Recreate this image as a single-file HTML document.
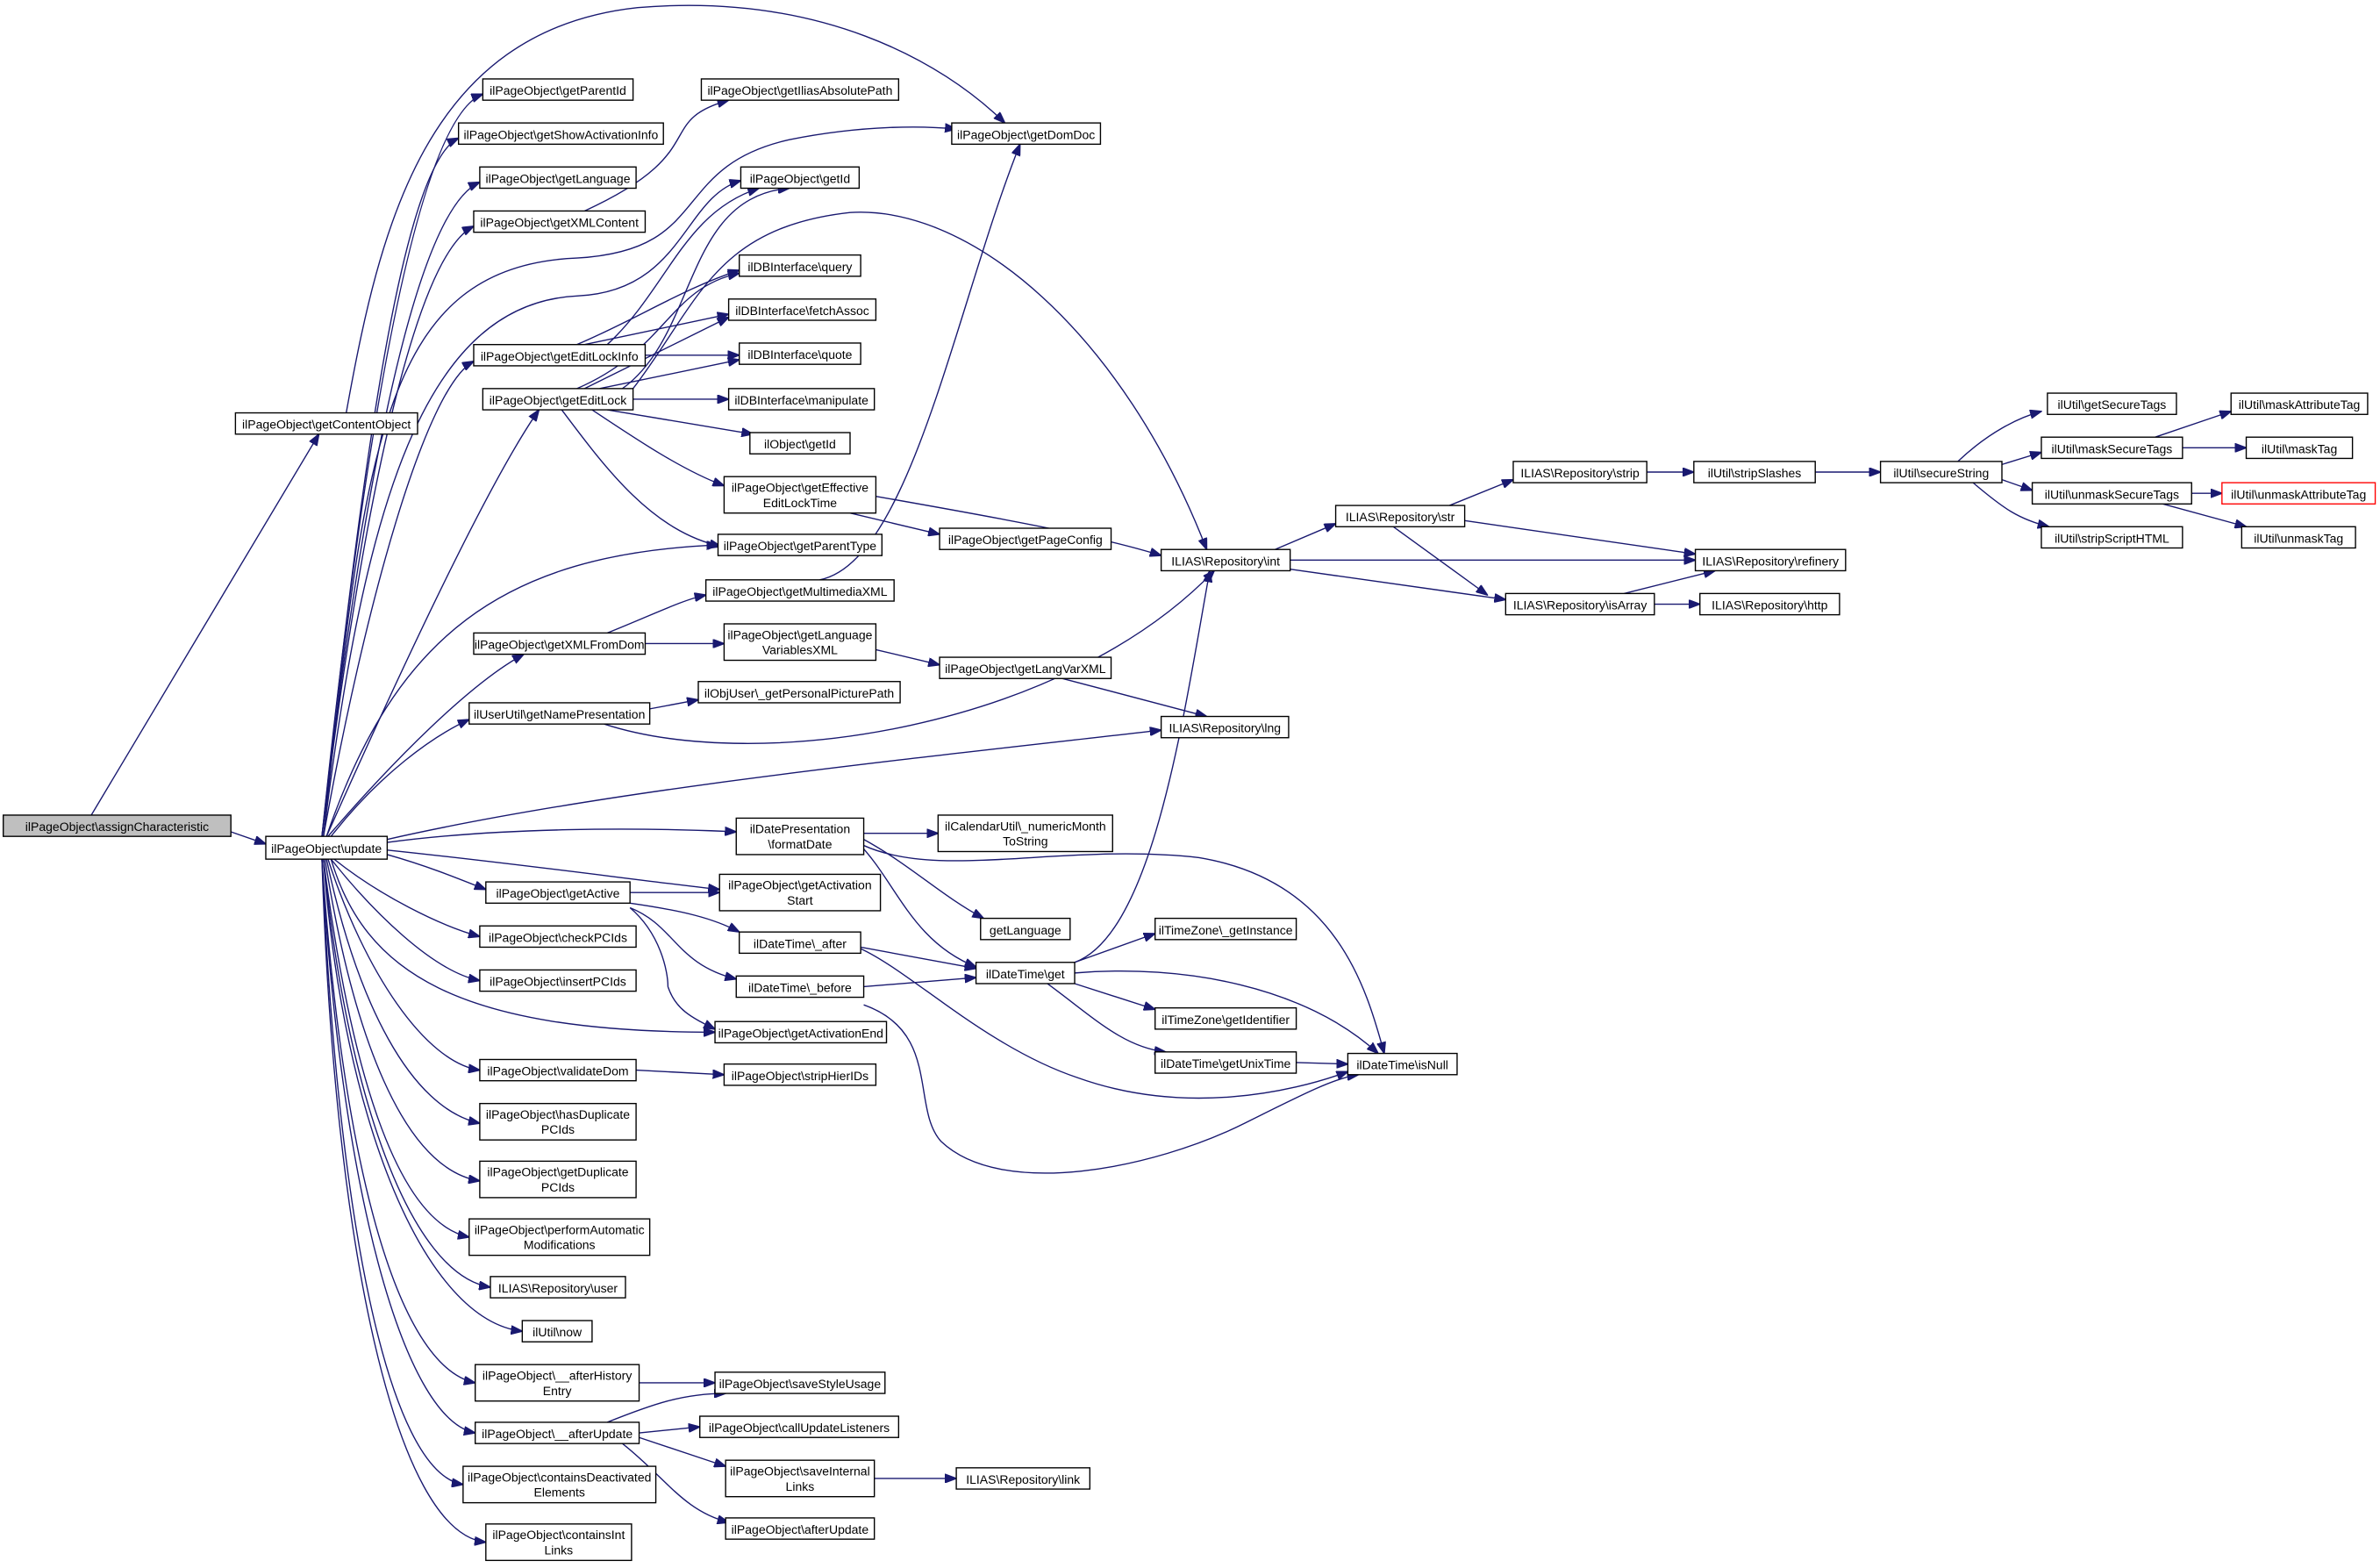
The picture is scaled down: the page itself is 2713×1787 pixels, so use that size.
<!DOCTYPE html>
<html><head><meta charset="utf-8"><style>
html,body{margin:0;padding:0;background:#fff}
svg{display:block}
text{font-family:"Liberation Sans",sans-serif;font-size:8.1px;fill:#000;text-anchor:middle}
rect{fill:#fff;stroke:#000;stroke-width:0.8}
path{fill:none;stroke:#191970;stroke-width:0.8}
</style></head><body>
<svg width="2713" height="1787" viewBox="0 0 1568 1033" xmlns="http://www.w3.org/2000/svg">
<defs><marker id="a" markerWidth="8" markerHeight="6" refX="7.5" refY="3" orient="auto" markerUnits="userSpaceOnUse"><path d="M0,0 L8,3 L0,6 z" style="fill:#191970;stroke:#191970;stroke-width:0.5"/></marker></defs>
<g marker-end="url(#a)">
<path d="M60,537 L210,286"/>
<path d="M152,548 L175,556"/>
<path d="M228,272 C250,150 280,20 420,5 C540,-5 620,40 662,81"/>
<path d="M212,551 C235,330 270,80 318,62"/>
<path d="M212,551 C235,340 262,110 302,91"/>
<path d="M212,551 C235,350 270,140 316,120"/>
<path d="M212,551 C235,360 270,170 312,149"/>
<path d="M213,551 C240,400 280,255 312,238"/>
<path d="M215,551 C260,450 320,320 355,270"/>
<path d="M216,551 C260,500 310,450 345,431"/>
<path d="M218,551 C250,510 285,485 309,474"/>
<path d="M215,551 C260,420 330,365 473,359"/>
<path d="M213,551 C240,300 250,175 380,170 C470,165 440,110 520,92 C570,82 610,83 630,85"/>
<path d="M213,551 C240,330 280,200 380,195 C450,192 450,130 488,119"/>
<path d="M255,553 C400,520 600,500 765,481"/>
<path d="M255,555 C330,545 420,545 485,548"/>
<path d="M255,563 C280,570 300,578 320,586"/>
<path d="M255,560 C350,570 420,580 474,586"/>
<path d="M218,566 C240,640 300,680 471,680"/>
<path d="M220,566 C250,590 290,610 316,617"/>
<path d="M218,566 C245,600 285,640 316,646"/>
<path d="M216,566 C240,640 280,700 316,705"/>
<path d="M215,566 C235,660 270,730 316,740"/>
<path d="M214,566 C232,680 265,770 316,778"/>
<path d="M213,566 C230,700 260,805 309,815"/>
<path d="M213,566 C228,720 270,840 323,848"/>
<path d="M213,566 C226,740 280,870 344,877"/>
<path d="M212,566 C225,760 260,900 313,911"/>
<path d="M212,566 C224,780 265,935 313,944"/>
<path d="M212,566 C222,800 255,970 305,978"/>
<path d="M212,566 C220,820 260,1010 320,1016"/>
<path d="M385,139 C470,100 430,80 480,66"/>
<path d="M380,227 C420,210 450,190 487,178"/>
<path d="M385,227 L480,207"/>
<path d="M425,234 L487,234"/>
<path d="M400,227 C440,190 450,140 500,124"/>
<path d="M380,256 C440,230 440,190 487,180"/>
<path d="M385,256 L480,209"/>
<path d="M395,256 L487,237"/>
<path d="M417,263 L480,263"/>
<path d="M400,270 L496,286"/>
<path d="M390,270 C420,290 450,310 477,320"/>
<path d="M370,270 C400,310 430,350 475,360"/>
<path d="M410,256 C460,220 450,130 520,124"/>
<path d="M417,256 C460,200 470,150 560,140 C640,135 740,220 795,362"/>
<path d="M577,327 C680,345 730,355 765,366"/>
<path d="M560,338 L619,352"/>
<path d="M540,382 C600,370 630,200 672,95"/>
<path d="M400,417 C430,405 450,395 465,392"/>
<path d="M425,424 L477,424"/>
<path d="M577,428 L619,438"/>
<path d="M700,447 L795,472"/>
<path d="M428,467 L460,461"/>
<path d="M398,477 C500,510 700,480 800,376"/>
<path d="M569,549 L618,549"/>
<path d="M569,553 C600,570 620,590 648,605"/>
<path d="M565,555 C590,580 600,620 643,637"/>
<path d="M569,557 C620,580 700,555 790,565 C880,580 900,650 912,694"/>
<path d="M415,588 L474,588"/>
<path d="M415,595 C450,600 470,605 487,614"/>
<path d="M415,598 C445,610 445,635 485,645"/>
<path d="M415,598 C435,615 440,640 440,650 C445,665 455,670 471,678"/>
<path d="M567,624 L643,638"/>
<path d="M569,650 L643,644"/>
<path d="M567,625 C600,640 650,690 710,710 C780,735 850,720 888,706"/>
<path d="M569,662 C620,680 600,730 620,752 C660,790 760,770 820,740 C860,720 880,710 895,708"/>
<path d="M708,634 L761,615"/>
<path d="M708,648 L761,665"/>
<path d="M690,648 C720,670 740,690 768,693"/>
<path d="M708,641 C780,635 860,650 908,694"/>
<path d="M708,634 C760,615 780,470 797,376"/>
<path d="M854,700 L888,701"/>
<path d="M840,362 L880,345"/>
<path d="M850,369 L1117,369"/>
<path d="M850,375 L992,395"/>
<path d="M955,333 L997,316"/>
<path d="M965,343 L1117,365"/>
<path d="M918,347 L980,392"/>
<path d="M1085,311 L1116,311"/>
<path d="M1196,311 L1239,311"/>
<path d="M1290,304 C1310,285 1330,275 1345,271"/>
<path d="M1319,306 L1345,298"/>
<path d="M1319,316 L1339,323"/>
<path d="M1300,318 C1320,335 1330,342 1350,347"/>
<path d="M1420,288 L1470,271"/>
<path d="M1438,295 L1480,295"/>
<path d="M1444,325 L1464,325"/>
<path d="M1425,332 L1480,347"/>
<path d="M1070,391 L1130,376"/>
<path d="M1090,398 L1120,398"/>
<path d="M419,705 L477,708"/>
<path d="M421,911 L471,911"/>
<path d="M400,937 C430,925 450,918 478,918"/>
<path d="M421,944 L461,940"/>
<path d="M421,947 L478,966"/>
<path d="M410,951 C440,975 450,995 480,1003"/>
<path d="M576,974 L630,974"/>
</g>
<rect x="2" y="537" width="150" height="14" style="fill:#bfbfbf"/><text x="77" y="547.5">ilPageObject\assignCharacteristic</text>
<rect x="155" y="272" width="120" height="14"/><text x="215" y="282.5">ilPageObject\getContentObject</text>
<rect x="175" y="551" width="80" height="15"/><text x="215" y="562">ilPageObject\update</text>
<rect x="318" y="52" width="99" height="14"/><text x="367.5" y="62.5">ilPageObject\getParentId</text>
<rect x="302" y="81" width="135" height="14"/><text x="369.5" y="91.5">ilPageObject\getShowActivationInfo</text>
<rect x="316" y="110" width="103" height="14"/><text x="367.5" y="120.5">ilPageObject\getLanguage</text>
<rect x="312" y="139" width="113" height="14"/><text x="368.5" y="149.5">ilPageObject\getXMLContent</text>
<rect x="312" y="227" width="113" height="14"/><text x="368.5" y="237.5">ilPageObject\getEditLockInfo</text>
<rect x="318" y="256" width="99" height="14"/><text x="367.5" y="266.5">ilPageObject\getEditLock</text>
<rect x="312" y="417" width="113" height="14"/><text x="368.5" y="427.5">ilPageObject\getXMLFromDom</text>
<rect x="309" y="463" width="119" height="14"/><text x="368.5" y="473.5">ilUserUtil\getNamePresentation</text>
<rect x="320" y="581" width="95" height="14"/><text x="367.5" y="591.5">ilPageObject\getActive</text>
<rect x="316" y="610" width="103" height="14"/><text x="367.5" y="620.5">ilPageObject\checkPCIds</text>
<rect x="316" y="639" width="103" height="14"/><text x="367.5" y="649.5">ilPageObject\insertPCIds</text>
<rect x="316" y="698" width="103" height="14"/><text x="367.5" y="708.5">ilPageObject\validateDom</text>
<rect x="316" y="727" width="103" height="24"/><text x="367.5" y="737">ilPageObject\hasDuplicate</text><text x="367.5" y="747">PCIds</text>
<rect x="316" y="765" width="103" height="24"/><text x="367.5" y="775">ilPageObject\getDuplicate</text><text x="367.5" y="785">PCIds</text>
<rect x="309" y="803" width="119" height="24"/><text x="368.5" y="813">ilPageObject\performAutomatic</text><text x="368.5" y="823">Modifications</text>
<rect x="323" y="841" width="89" height="14"/><text x="367.5" y="851.5">ILIAS\Repository\user</text>
<rect x="344" y="870" width="46" height="14"/><text x="367" y="880.5">ilUtil\now</text>
<rect x="313" y="899" width="108" height="24"/><text x="367" y="909">ilPageObject\__afterHistory</text><text x="367" y="919">Entry</text>
<rect x="313" y="937" width="108" height="14"/><text x="367" y="947.5">ilPageObject\__afterUpdate</text>
<rect x="305" y="966" width="127" height="24"/><text x="368.5" y="976">ilPageObject\containsDeactivated</text><text x="368.5" y="986">Elements</text>
<rect x="320" y="1004" width="96" height="24"/><text x="368" y="1014">ilPageObject\containsInt</text><text x="368" y="1024">Links</text>
<rect x="462" y="52" width="130" height="14"/><text x="527" y="62.5">ilPageObject\getIliasAbsolutePath</text>
<rect x="488" y="110" width="78" height="14"/><text x="527" y="120.5">ilPageObject\getId</text>
<rect x="487" y="168" width="80" height="14"/><text x="527" y="178.5">ilDBInterface\query</text>
<rect x="480" y="197" width="97" height="14"/><text x="528.5" y="207.5">ilDBInterface\fetchAssoc</text>
<rect x="487" y="226" width="80" height="14"/><text x="527" y="236.5">ilDBInterface\quote</text>
<rect x="480" y="256" width="96" height="14"/><text x="528" y="266.5">ilDBInterface\manipulate</text>
<rect x="494" y="285" width="66" height="14"/><text x="527" y="295.5">ilObject\getId</text>
<rect x="477" y="314" width="100" height="24"/><text x="527" y="324">ilPageObject\getEffective</text><text x="527" y="334">EditLockTime</text>
<rect x="473" y="352" width="108" height="14"/><text x="527" y="362.5">ilPageObject\getParentType</text>
<rect x="465" y="382" width="124" height="14"/><text x="527" y="392.5">ilPageObject\getMultimediaXML</text>
<rect x="477" y="411" width="100" height="24"/><text x="527" y="421">ilPageObject\getLanguage</text><text x="527" y="431">VariablesXML</text>
<rect x="460" y="449" width="133" height="14"/><text x="526.5" y="459.5">ilObjUser\_getPersonalPicturePath</text>
<rect x="485" y="539" width="84" height="24"/><text x="527" y="549">ilDatePresentation</text><text x="527" y="559">\formatDate</text>
<rect x="474" y="576" width="106" height="24"/><text x="527" y="586">ilPageObject\getActivation</text><text x="527" y="596">Start</text>
<rect x="487" y="614" width="80" height="14"/><text x="527" y="624.5">ilDateTime\_after</text>
<rect x="485" y="643" width="84" height="14"/><text x="527" y="653.5">ilDateTime\_before</text>
<rect x="471" y="673" width="113" height="14"/><text x="527.5" y="683.5">ilPageObject\getActivationEnd</text>
<rect x="477" y="701" width="100" height="14"/><text x="527" y="711.5">ilPageObject\stripHierIDs</text>
<rect x="471" y="904" width="112" height="14"/><text x="527" y="914.5">ilPageObject\saveStyleUsage</text>
<rect x="461" y="933" width="131" height="14"/><text x="526.5" y="943.5">ilPageObject\callUpdateListeners</text>
<rect x="478" y="962" width="98" height="24"/><text x="527" y="972">ilPageObject\saveInternal</text><text x="527" y="982">Links</text>
<rect x="478" y="1000" width="98" height="14"/><text x="527" y="1010.5">ilPageObject\afterUpdate</text>
<rect x="627" y="81" width="98" height="14"/><text x="676" y="91.5">ilPageObject\getDomDoc</text>
<rect x="619" y="348" width="113" height="14"/><text x="675.5" y="358.5">ilPageObject\getPageConfig</text>
<rect x="619" y="433" width="113" height="14"/><text x="675.5" y="443.5">ilPageObject\getLangVarXML</text>
<rect x="618" y="537" width="115" height="24"/><text x="675.5" y="547">ilCalendarUtil\_numericMonth</text><text x="675.5" y="557">ToString</text>
<rect x="646" y="605" width="59" height="14"/><text x="675.5" y="615.5">getLanguage</text>
<rect x="643" y="634" width="65" height="14"/><text x="675.5" y="644.5">ilDateTime\get</text>
<rect x="630" y="967" width="88" height="14"/><text x="674" y="977.5">ILIAS\Repository\link</text>
<rect x="765" y="362" width="85" height="14"/><text x="807.5" y="372.5">ILIAS\Repository\int</text>
<rect x="765" y="472" width="84" height="14"/><text x="807" y="482.5">ILIAS\Repository\lng</text>
<rect x="761" y="605" width="93" height="14"/><text x="807.5" y="615.5">ilTimeZone\_getInstance</text>
<rect x="761" y="664" width="93" height="14"/><text x="807.5" y="674.5">ilTimeZone\getIdentifier</text>
<rect x="761" y="693" width="93" height="14"/><text x="807.5" y="703.5">ilDateTime\getUnixTime</text>
<rect x="880" y="333" width="85" height="14"/><text x="922.5" y="343.5">ILIAS\Repository\str</text>
<rect x="888" y="694" width="72" height="14"/><text x="924" y="704.5">ilDateTime\isNull</text>
<rect x="997" y="304" width="88" height="14"/><text x="1041" y="314.5">ILIAS\Repository\strip</text>
<rect x="992" y="391" width="98" height="14"/><text x="1041" y="401.5">ILIAS\Repository\isArray</text>
<rect x="1116" y="304" width="80" height="14"/><text x="1156" y="314.5">ilUtil\stripSlashes</text>
<rect x="1117" y="362" width="99" height="14"/><text x="1166.5" y="372.5">ILIAS\Repository\refinery</text>
<rect x="1120" y="391" width="92" height="14"/><text x="1166" y="401.5">ILIAS\Repository\http</text>
<rect x="1239" y="304" width="80" height="14"/><text x="1279" y="314.5">ilUtil\secureString</text>
<rect x="1349" y="259" width="85" height="14"/><text x="1391.5" y="269.5">ilUtil\getSecureTags</text>
<rect x="1345" y="288" width="93" height="14"/><text x="1391.5" y="298.5">ilUtil\maskSecureTags</text>
<rect x="1339" y="318" width="105" height="14"/><text x="1391.5" y="328.5">ilUtil\unmaskSecureTags</text>
<rect x="1345" y="347" width="93" height="14"/><text x="1391.5" y="357.5">ilUtil\stripScriptHTML</text>
<rect x="1470" y="259" width="90" height="14"/><text x="1515" y="269.5">ilUtil\maskAttributeTag</text>
<rect x="1480" y="288" width="70" height="14"/><text x="1515" y="298.5">ilUtil\maskTag</text>
<rect x="1464" y="318" width="101" height="14" style="stroke:#ff0000"/><text x="1514.5" y="328.5">ilUtil\unmaskAttributeTag</text>
<rect x="1477" y="347" width="75" height="14"/><text x="1514.5" y="357.5">ilUtil\unmaskTag</text>
</svg>
</body></html>
